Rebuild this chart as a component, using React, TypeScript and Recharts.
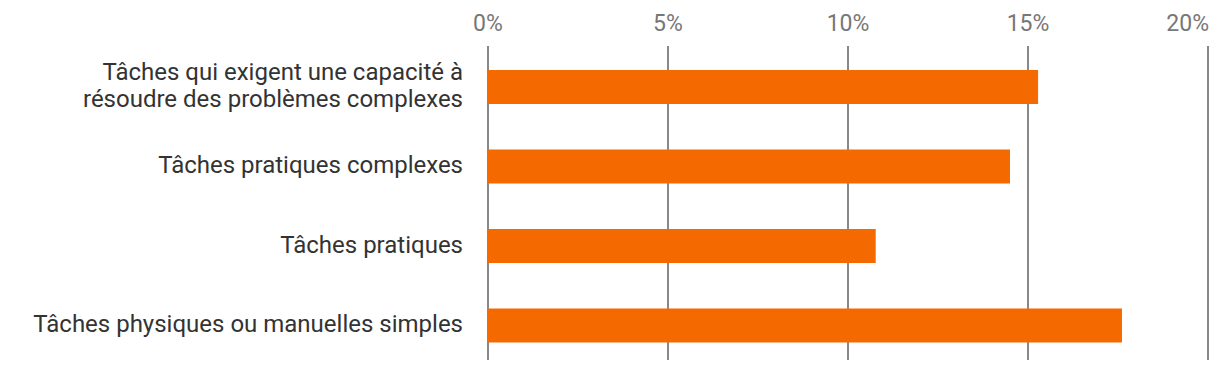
import React from "react";
import { BarChart, Bar, XAxis, YAxis, CartesianGrid } from "recharts";

const categories = [
  "Tâches qui exigent une capacité à\nrésoudre des problèmes complexes",
  "Tâches pratiques complexes",
  "Tâches pratiques",
  "Tâches physiques ou manuelles simples",
];
const values = [15.28, 14.5, 10.77, 17.61];
const xTicks = [0, 5, 10, 15, 20];

const data = categories.map((c, i) => ({ category: c, value: values[i] }));

const FONT = "Roboto, 'Noto Sans', sans-serif";

const YTick = (props: any) => {
  const { x, y, payload } = props;
  const lines = String(payload.value).split("\n");
  const lh = 27;
  return (
    <g>
      {lines.map((line: string, i: number) => (
        <text
          key={i}
          x={x}
          y={y + (i - (lines.length - 1) / 2) * lh}
          dy="0.3em"
          textAnchor="end"
          fill="#333333"
          fontFamily={FONT}
          fontSize={24}
        >
          {line}
        </text>
      ))}
    </g>
  );
};

const XTick = (props: any) => {
  const { x, payload, index } = props;
  const last = index === xTicks.length - 1;
  return (
    <text
      x={last ? x + 1 : x}
      y={22.5}
      textAnchor={last ? "end" : "middle"}
      fill="#777777"
      fontFamily={FONT}
      fontSize={23}
    >
      {payload.value}%
    </text>
  );
};

export default function App() {
  return (
    <BarChart
      width={1212}
      height={362}
      data={data}
      layout="vertical"
      margin={{ top: 0, right: 12, bottom: 10, left: 0 }}
    >
      <CartesianGrid horizontal={false} stroke="#888888" strokeWidth={2} />
      <XAxis
        type="number"
        orientation="top"
        domain={[0, 20]}
        ticks={xTicks}
        height={38}
        axisLine={false}
        tickLine={false}
        tick={<XTick />}
        interval={0}
      />
      <YAxis
        type="category"
        dataKey="category"
        width={480}
        axisLine={false}
        tickLine={false}
        tickSize={0}
        tickMargin={25}
        tick={<YTick />}
        interval={0}
        padding={{ top: 1, bottom: -5 }}
      />
      <Bar dataKey="value" fill="#f46a00" barSize={34} isAnimationActive={false} />
    </BarChart>
  );
}
